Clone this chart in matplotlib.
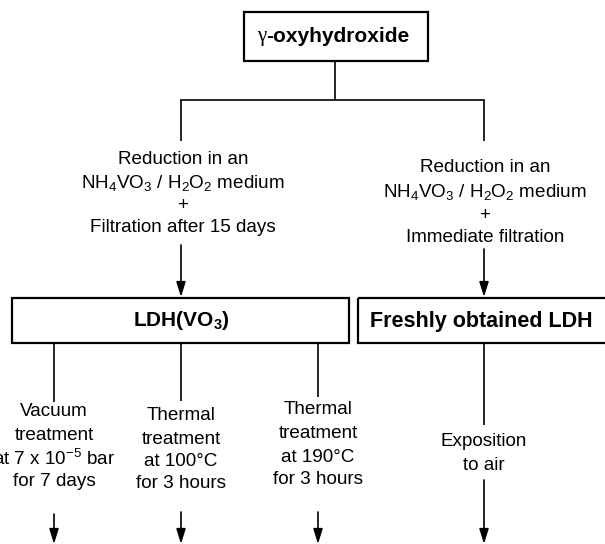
import matplotlib.pyplot as plt
from matplotlib.patches import Rectangle

plt.rcParams['font.family'] = ['Liberation Sans', 'DejaVu Sans']
plt.rcParams['mathtext.fontset'] = 'custom'
plt.rcParams['mathtext.rm'] = 'Liberation Sans'
plt.rcParams['mathtext.bf'] = 'Liberation Sans:bold'
plt.rcParams['mathtext.default'] = 'regular'

# ---- content ----
top_gamma = "γ"
top_label = "-oxyhydroxide"
left_route = ["Reduction in an", r"NH$_4$VO$_3$ / H$_2$O$_2$ medium", "+", "Filtration after 15 days"]
right_route = ["Reduction in an", r"NH$_4$VO$_3$ / H$_2$O$_2$ medium", "+", "Immediate filtration"]
box_left_label = r"$\mathbf{LDH(VO_3)}$"
box_right_label = "Freshly obtained LDH"
treatments = [
    ["Vacuum", "treatment", r"at 7 x 10$^{-5}$ bar", "for 7 days"],
    ["Thermal", "treatment", "at 100°C", "for 3 hours"],
    ["Thermal", "treatment", "at 190°C", "for 3 hours"],
    ["Exposition", "to air"],
]

fig = plt.figure(figsize=(6.05, 5.44), dpi=100)
ax = fig.add_axes([0, 0, 1, 1])
ax.set_xlim(0, 605)
ax.set_ylim(544, 0)
ax.axis('off')

LW = 1.2
FS = 13.6

def vline(x, y0, y1):
    ax.plot([x, x], [y0, y1], color='black', lw=LW, solid_capstyle='butt')

def arrow(x, y0, y1):
    ax.annotate("", xy=(x, y1), xytext=(x, y0),
                arrowprops=dict(arrowstyle="-|>,head_length=0.9,head_width=0.28",
                                color='black', lw=LW, shrinkA=0, shrinkB=0))

def lines_text(x, ys, texts, **kw):
    for y, t in zip(ys, texts):
        ax.text(x, y, t, ha='center', va='center', fontsize=FS, **kw)

# top box
ax.add_patch(Rectangle((244, 12), 184, 49, fill=False, lw=1.6, ec='black'))
ax.text(266, 37, top_gamma, ha='right', va='center', fontsize=15, family='Liberation Serif')
ax.text(266, 37, top_label, ha='left', va='center', fontsize=15, fontweight='bold')
vline(335, 61, 100)
ax.plot([181, 484], [100, 100], color='black', lw=LW)
vline(181, 100, 141)
vline(484, 100, 141)

# routes
lines_text(183, [160, 183, 205, 227], left_route)
lines_text(485, [167, 192, 215, 237], right_route)
arrow(181, 245, 297)
arrow(484, 249, 297)

# LDH boxes
ax.add_patch(Rectangle((12, 298), 337, 45, fill=False, lw=1.6, ec='black'))
ax.text(181, 321, box_left_label, ha='center', va='center', fontsize=15)
ax.add_patch(Rectangle((358, 298), 252, 45, fill=False, lw=1.6, ec='black', clip_on=True))
ax.text(481, 321, box_right_label, ha='center', va='center', fontsize=15.5, fontweight='bold')

# treatments
xs = [54, 181, 318, 484]
line_ends = [402, 401, 397, 425]
text_ys = [
    [412, 435, 459, 482],
    [416, 439, 461, 484],
    [410, 434, 457, 480],
    [442, 465],
]
arrow_starts = [514, 512, 512, 480]
for x, le, ys, tx, a0 in zip(xs, line_ends, text_ys, treatments, arrow_starts):
    vline(x, 343, le)
    lines_text(x, ys, tx)
    arrow(x, a0, 544)

fig.savefig('out.png', dpi=100)
